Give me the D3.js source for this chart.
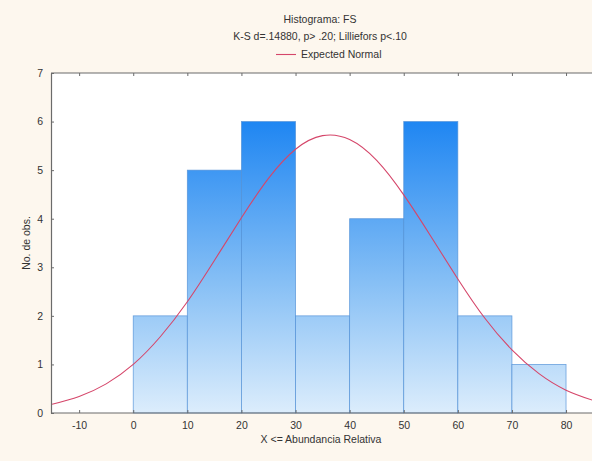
<!DOCTYPE html>
<html><head><meta charset="utf-8">
<script src="https://cdn.jsdelivr.net/npm/d3@7"></script>
<style>
html,body{margin:0;padding:0;background:#fdf7ee;}
svg{display:block;font-family:"Liberation Sans",Arial,sans-serif;}
</style></head>
<body>
<script>
// Data
const binStarts = [0, 10, 20, 30, 40, 50, 60, 70];
const binWidth = 10;
const counts = [2, 5, 6, 2, 4, 6, 2, 1];
const curveX = [-15,-10,-5,0,5,10,15,20,25,30,35,40,45,50,55,60,65,70,75,80,85];
const curveY = [0.18,0.34,0.60,1.00,1.57,2.29,3.14,4.02,4.83,5.43,5.71,5.63,5.20,4.49,3.64,2.76,1.95,1.30,0.81,0.47,0.26];
const xTicks = [-10,0,10,20,30,40,50,60,70,80];
const yTicks = [0,1,2,3,4,5,6,7];
const titleLines = ["Histograma: FS", "K-S d=.14880, p> .20; Lilliefors p<.10"];
const legendLabel = "Expected Normal";
const xLabel = "X <= Abundancia Relativa";
const yLabel = "No. de obs.";

const W = 592, H = 461;
const m = {left: 51, right: 0, top: 73, bottom: 48};
const svg = d3.select("body").append("svg").attr("width", W).attr("height", H);
svg.append("rect").attr("width", W).attr("height", H).attr("fill", "#fdf7ee");

const x = d3.scaleLinear().domain([-15.2, 84.8]).range([m.left, W - m.right]);
const y = d3.scaleLinear().domain([0, 7]).range([H - m.bottom, m.top]);

svg.append("rect").attr("x", m.left).attr("y", m.top)
  .attr("width", W - m.right - m.left).attr("height", y(0) - m.top).attr("fill", "#ffffff");

const defs = svg.append("defs");
const grad = defs.append("linearGradient").attr("id", "bg")
  .attr("gradientUnits", "userSpaceOnUse")
  .attr("x1", 0).attr("x2", 0).attr("y1", y(6)).attr("y2", y(0));
grad.append("stop").attr("offset", "0%").attr("stop-color", "#1f86f2");
grad.append("stop").attr("offset", "55%").attr("stop-color", "#86bff5");
grad.append("stop").attr("offset", "100%").attr("stop-color", "#dcedfc");

const plot = svg.append("g");
plot.selectAll("rect.bar").data(counts).join("rect").attr("class", "bar")
  .attr("x", (d, i) => x(binStarts[i]))
  .attr("y", d => y(d))
  .attr("width", (d, i) => x(binStarts[i] + binWidth) - x(binStarts[i]))
  .attr("height", d => y(0) - y(d))
  .attr("fill", "url(#bg)")
  .attr("stroke", "#4f8fd6").attr("stroke-width", 0.8).attr("stroke-opacity", 0.8);

const line = d3.line().x((d, i) => x(curveX[i])).y(d => y(d)).curve(d3.curveNatural);
plot.append("path").datum(curveY).attr("d", line)
  .attr("fill", "none").attr("stroke", "#d5466a").attr("stroke-width", 1.1);

// Axes
const fmt = d => String(d);
const axisColor = "#6b6b6b";
const xAxis = svg.append("g").attr("transform", `translate(0,${y(0)})`)
  .call(d3.axisBottom(x).tickValues(xTicks).tickFormat(fmt).tickSizeInner(-3).tickSizeOuter(0).tickPadding(9));
const yAxis = svg.append("g").attr("transform", `translate(${m.left},0)`)
  .call(d3.axisLeft(y).tickValues(yTicks).tickFormat(fmt).tickSizeInner(-3).tickSizeOuter(0).tickPadding(8));
const topAxis = svg.append("g").attr("transform", `translate(0,${m.top})`)
  .call(d3.axisTop(x).tickValues(xTicks).tickSizeInner(-3).tickSizeOuter(0).tickFormat(""));
[xAxis, yAxis, topAxis].forEach(g => {
  g.select(".domain").attr("stroke", axisColor).attr("stroke-width", 1.2);
  g.selectAll(".tick line").attr("stroke", axisColor);
  g.selectAll(".tick text").attr("fill", "#333").style("font-size", "10.5px")
    .style("font-family", "'Liberation Sans',Arial,sans-serif");
});
xAxis.select(".domain").attr("d", `M${m.left},0H${W}`);
topAxis.select(".domain").attr("d", `M${m.left},0H${W}`);

// Titles
svg.selectAll("text.title").data(titleLines).join("text").attr("class", "title")
  .attr("x", 320).attr("y", (d, i) => 23 + i * 17)
  .attr("text-anchor", "middle").attr("fill", "#333").style("font-size", "10.5px").text(d => d);
svg.append("line").attr("x1", 276).attr("x2", 296).attr("y1", 54.5).attr("y2", 54.5)
  .attr("stroke", "#d5466a").attr("stroke-width", 1.1);
svg.append("text").attr("x", 301).attr("y", 58).attr("fill", "#333")
  .style("font-size", "10.5px").text(legendLabel);

svg.append("text").attr("x", 321).attr("y", 443).attr("text-anchor", "middle")
  .attr("fill", "#333").style("font-size", "10.5px").text(xLabel);
svg.append("text").attr("transform", `translate(30,${(m.top + y(0)) / 2}) rotate(-90)`)
  .attr("text-anchor", "middle").attr("fill", "#333").style("font-size", "10.5px").text(yLabel);
</script>
</body></html>
